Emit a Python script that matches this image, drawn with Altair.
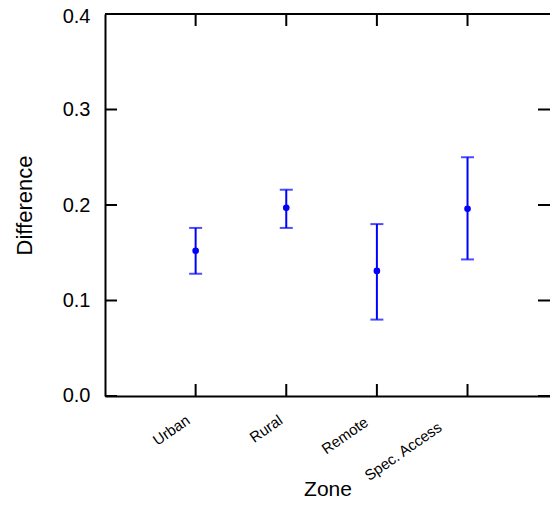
import altair as alt
import pandas as pd

# ---- data ----
zones = ["Urban", "Rural", "Remote", "Spec. Access"]
positions = [1, 2, 3, 4]
means = [0.152, 0.197, 0.131, 0.196]
lows = [0.128, 0.176, 0.080, 0.143]
highs = [0.176, 0.216, 0.180, 0.250]
y_ticks = [0.0, 0.1, 0.2, 0.3, 0.4]
x_domain = [0, 4.91]   # the frame is cut at the right edge of the picture
y_domain = [0.0, 0.4]

# label placement tweaks (style only), per category
label_dx = [-8, -6, -11, -28]
label_pad = [22, 22, 24, 29]

W, H = 445, 382
BLUE = "#0000FF"
FONT = "Liberation Sans"

df = pd.DataFrame({"zone": zones, "pos": positions, "mean": means,
                   "low": lows, "high": highs})
yt_df = pd.DataFrame({"v": y_ticks})
xt_df = pd.DataFrame({"p": positions})
one_df = pd.DataFrame({"a": [0]})

label_expr = " : ".join(f"datum.value == {p} ? '{z}'" for p, z in zip(positions, zones)) + " : ''"
x_label_offset = {"condition": [{"test": f"datum.value == {p}", "value": d}
                                for p, d in zip(positions, label_dx)], "value": 0}
x_label_pad = {"condition": [{"test": f"datum.value == {p}", "value": d}
                             for p, d in zip(positions, label_pad)], "value": 22}
y_label_offset = {"condition": [{"test": "datum.value >= 0.39", "value": 2},
                                {"test": "datum.value <= 0.01", "value": -1}], "value": 0}

xscale = alt.Scale(domain=x_domain, nice=False, zero=False)
yscale = alt.Scale(domain=y_domain, nice=False, zero=False)

x_axis = alt.Axis(values=positions, labelExpr=label_expr, title="Zone",
                  ticks=False, tickSize=0, grid=False, domain=True,
                  domainColor="black", domainWidth=2,
                  labelAngle=-35, labelAlign="right", labelBaseline="middle",
                  labelOverlap=False, labelBound=False,
                  labelFontSize=15, labelPadding=x_label_pad, labelOffset=x_label_offset,
                  labelFont=FONT, labelColor="black",
                  titleFont=FONT, titleFontSize=21, titleFontWeight="normal",
                  titleColor="black", titleY=99, titleBaseline="alphabetic")
y_axis = alt.Axis(values=y_ticks, format=".1f", title="Difference",
                  ticks=False, tickSize=0, grid=False, domain=True,
                  domainColor="black", domainWidth=2,
                  labelOverlap=False,
                  labelFontSize=20, labelPadding=15, labelOffset=y_label_offset,
                  labelFont=FONT, labelColor="black",
                  titleFont=FONT, titleFontSize=22, titleFontWeight="normal",
                  titleColor="black", titleAngle=270, titleX=-74,
                  titleBaseline="alphabetic")

X = alt.X("pos:Q", scale=xscale)
points = alt.Chart(df).mark_circle(size=44, color=BLUE, opacity=1).encode(
    x=alt.X("pos:Q", scale=xscale, axis=x_axis),
    y=alt.Y("mean:Q", scale=yscale, axis=y_axis),
)
bars = alt.Chart(df).mark_rule(color=BLUE, strokeWidth=2).encode(
    x=X, y=alt.Y("low:Q", scale=yscale), y2="high:Q",
)
cap_lo = alt.Chart(df).mark_tick(orient="horizontal", size=13, thickness=2, color=BLUE).encode(
    x=X, y=alt.Y("low:Q", scale=yscale),
)
cap_hi = alt.Chart(df).mark_tick(orient="horizontal", size=13, thickness=2, color=BLUE).encode(
    x=X, y=alt.Y("high:Q", scale=yscale),
)

# frame top line and inward ticks
top_line = alt.Chart(one_df).mark_rule(color="black", strokeWidth=2).encode(
    x=alt.value(0), x2=alt.value(W), y=alt.value(0))
left_ticks = alt.Chart(yt_df).mark_rule(color="black", strokeWidth=2).encode(
    y=alt.Y("v:Q", scale=yscale), x=alt.value(0), x2=alt.value(12))
right_ticks = alt.Chart(yt_df).mark_rule(color="black", strokeWidth=2).encode(
    y=alt.Y("v:Q", scale=yscale), x=alt.value(W - 12), x2=alt.value(W))
bottom_ticks = alt.Chart(xt_df).mark_rule(color="black", strokeWidth=2).encode(
    x=alt.X("p:Q", scale=xscale), y=alt.value(H - 12), y2=alt.value(H))
top_ticks = alt.Chart(xt_df).mark_rule(color="black", strokeWidth=2).encode(
    x=alt.X("p:Q", scale=xscale), y=alt.value(0), y2=alt.value(12))

chart = alt.layer(
    points, bars, cap_lo, cap_hi,
    top_line, left_ticks, right_ticks, bottom_ticks, top_ticks,
).properties(
    width=W, height=H,
    autosize=alt.AutoSizeParams(type="none"),
    padding={"left": 97, "top": 6, "right": 0, "bottom": 104},
    background="white",
).configure_view(strokeWidth=0)

chart.save("out.html", embed_options={"renderer": "svg", "actions": False})
